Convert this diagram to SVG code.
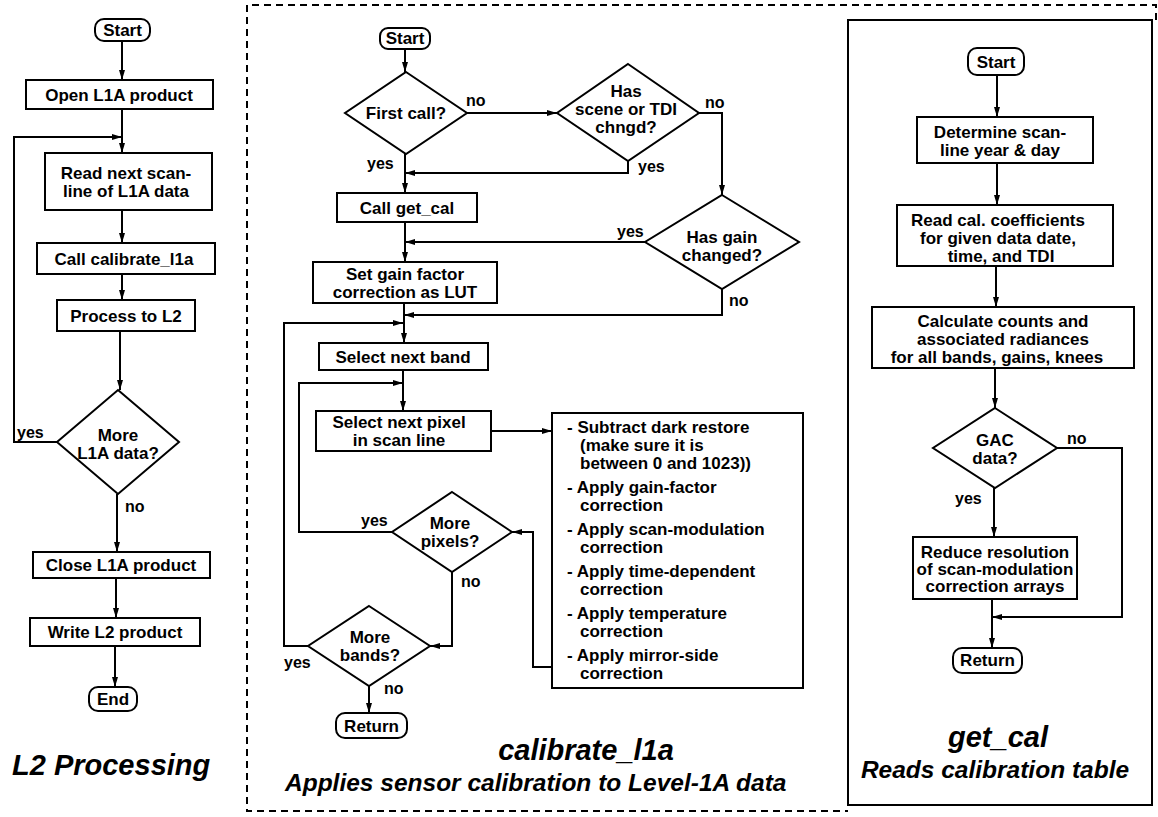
<svg xmlns="http://www.w3.org/2000/svg" width="1158" height="817" viewBox="0 0 1158 817">
<defs>
<style>
.b{fill:#fff;stroke:#000;stroke-width:2}
.c{fill:none;stroke:#000;stroke-width:2}
.a{marker-end:url(#ah)}
.t{font-family:"Liberation Sans",Arial,Helvetica,sans-serif;font-weight:bold;font-size:17px;text-anchor:middle;fill:#000}
.l{font-family:"Liberation Sans",Arial,Helvetica,sans-serif;font-weight:bold;font-size:16px;fill:#000}
.s{font-family:"Liberation Sans",Arial,Helvetica,sans-serif;font-weight:bold;font-size:17px;fill:#000}
.h{font-family:"Liberation Sans",Arial,Helvetica,sans-serif;font-weight:bold;font-style:italic;font-size:29px;fill:#000}
.u{font-family:"Liberation Sans",Arial,Helvetica,sans-serif;font-weight:bold;font-style:italic;font-size:24.5px;fill:#000}
</style>
<marker id="ah" viewBox="0 0 10 10" refX="10" refY="5" markerWidth="10" markerHeight="10" markerUnits="userSpaceOnUse" orient="auto"><path d="M0,2 L10,5 L0,8 z" fill="#000"/></marker>
</defs>
<rect width="1158" height="817" fill="#fff"/>

<!-- frames -->
<g id="frames">
<path d="M1156,20 V5 H247 V811 H848" fill="none" stroke="#000" stroke-width="2" stroke-dasharray="7,5"/>
<rect x="848" y="20" width="304" height="785" class="b" fill="none"/>
</g>

<!-- connectors -->
<g id="connectors">
<!-- left -->
<path class="c a" d="M122,41 V80"/>
<path class="c a" d="M122,109 V153"/>
<path class="c a" d="M57,442 H14 V137 H122"/>
<path class="c a" d="M122,210 V243"/>
<path class="c a" d="M122,274 V300"/>
<path class="c a" d="M120,331 V390"/>
<path class="c a" d="M117,494 V552"/>
<path class="c a" d="M116,578 V618"/>
<path class="c a" d="M115,646 V687"/>
<!-- middle -->
<path class="c a" d="M405,48 V72"/>
<path class="c a" d="M467,113 H557"/>
<path class="c a" d="M699,113 H722 V195"/>
<path class="c a" d="M628,161 V173 H405"/>
<path class="c a" d="M405,154 V193"/>
<path class="c a" d="M405,222 V262"/>
<path class="c a" d="M645,242 H405"/>
<path class="c a" d="M722,289 V315 H404"/>
<path class="c a" d="M404,303 V343"/>
<path class="c a" d="M308,646 H284 V323 H403"/>
<path class="c a" d="M403,370 V411"/>
<path class="c a" d="M392,532 H299 V383 H403"/>
<path class="c a" d="M491,431 H552"/>
<path class="c a" d="M552,667 H533 V532 H512"/>
<path class="c a" d="M452,572 V646 H430"/>
<path class="c a" d="M369,686 V713"/>
<!-- right -->
<path class="c a" d="M997,75 V117"/>
<path class="c a" d="M997,163 V205"/>
<path class="c a" d="M996,266 V307"/>
<path class="c a" d="M995,368 V408"/>
<path class="c a" d="M994,488 V537"/>
<path class="c a" d="M1057,448 H1122 V617 H992"/>
<path class="c a" d="M992,599 V648"/>
</g>

<!-- LEFT: L2 Processing -->
<g id="l-start"><rect class="b" x="95" y="19" width="55" height="22" rx="9"/><text class="t" x="122.5" y="36">Start</text></g>
<g id="l-open"><rect class="b" x="26" y="80" width="187" height="29"/><text class="t" x="119" y="101">Open L1A product</text></g>
<g id="l-read"><rect class="b" x="45" y="153" width="167" height="57"/><text class="t" x="126" y="179">Read next scan-</text><text class="t" x="126" y="197">line of L1A data</text></g>
<g id="l-call"><rect class="b" x="37" y="243" width="178" height="31"/><text class="t" x="124" y="265">Call calibrate_l1a</text></g>
<g id="l-proc"><rect class="b" x="57" y="300" width="138" height="31"/><text class="t" x="126" y="322">Process to L2</text></g>
<g id="l-more"><polygon class="b" points="118,390 179,442 118,494 57,442"/><text class="t" x="118" y="441">More</text><text class="t" x="118" y="459">L1A data?</text><text class="l" x="17" y="438">yes</text><text class="l" x="125" y="512">no</text></g>
<g id="l-close"><rect class="b" x="33" y="552" width="177" height="26"/><text class="t" x="121" y="571">Close L1A product</text></g>
<g id="l-write"><rect class="b" x="30" y="618" width="170" height="28"/><text class="t" x="115" y="638">Write L2 product</text></g>
<g id="l-end"><rect class="b" x="89" y="687" width="48" height="24" rx="9"/><text class="t" x="113" y="705">End</text></g>
<g id="l-title"><text class="h" x="12" y="775">L2 Processing</text></g>

<!-- MIDDLE: calibrate_l1a -->
<g id="m-start"><rect class="b" x="380" y="28" width="50" height="21" rx="8"/><text class="t" x="405" y="44">Start</text></g>
<g id="m-first"><polygon class="b" points="406,72 467,113 406,154 345,113"/><text class="t" x="406" y="119">First call?</text><text class="l" x="466" y="106">no</text><text class="l" x="367" y="169">yes</text></g>
<g id="m-scene"><polygon class="b" points="628,64 699,113 628,161 557,113"/><text class="t" x="626" y="97">Has</text><text class="t" x="626" y="115">scene or TDI</text><text class="t" x="626" y="133">chngd?</text><text class="l" x="705" y="108">no</text><text class="l" x="638" y="172">yes</text></g>
<g id="m-getcal"><rect class="b" x="337" y="193" width="140" height="29"/><text class="t" x="407" y="214">Call get_cal</text></g>
<g id="m-gain"><polygon class="b" points="722,195 799,242 722,289 645,242"/><text class="t" x="722" y="243">Has gain</text><text class="t" x="722" y="261">changed?</text><text class="l" x="617" y="237">yes</text><text class="l" x="729" y="306">no</text></g>
<g id="m-lut"><rect class="b" x="313" y="262" width="184" height="41"/><text class="t" x="405" y="280">Set gain factor</text><text class="t" x="405" y="298">correction as LUT</text></g>
<g id="m-band"><rect class="b" x="319" y="343" width="169" height="27"/><text class="t" x="403" y="363">Select next band</text></g>
<g id="m-pixel"><rect class="b" x="316" y="411" width="175" height="40"/><text class="t" x="399" y="428">Select next pixel</text><text class="t" x="399" y="446">in scan line</text></g>
<g id="m-ops"><rect class="b" x="552" y="413" width="251" height="275"/>
<text class="s" x="567" y="433">- Subtract dark restore</text>
<text class="s" x="580" y="451">(make sure it is</text>
<text class="s" x="580" y="469">between 0 and 1023))</text>
<text class="s" x="567" y="493">- Apply gain-factor</text>
<text class="s" x="580" y="511">correction</text>
<text class="s" x="567" y="535">- Apply scan-modulation</text>
<text class="s" x="580" y="553">correction</text>
<text class="s" x="567" y="577">- Apply time-dependent</text>
<text class="s" x="580" y="595">correction</text>
<text class="s" x="567" y="619">- Apply temperature</text>
<text class="s" x="580" y="637">correction</text>
<text class="s" x="567" y="661">- Apply mirror-side</text>
<text class="s" x="580" y="679">correction</text>
</g>
<g id="m-pixels"><polygon class="b" points="452,492 512,532 452,572 392,532"/><text class="t" x="450" y="529">More</text><text class="t" x="450" y="547">pixels?</text><text class="l" x="361" y="526">yes</text><text class="l" x="461" y="587">no</text></g>
<g id="m-bands"><polygon class="b" points="369,606 430,646 369,686 308,646"/><text class="t" x="370" y="643">More</text><text class="t" x="370" y="661">bands?</text><text class="l" x="284" y="668">yes</text><text class="l" x="384" y="694">no</text></g>
<g id="m-return"><rect class="b" x="336" y="713" width="71" height="25" rx="9"/><text class="t" x="371.5" y="732">Return</text></g>
<g id="m-title"><text class="h" x="586" y="760" text-anchor="middle">calibrate_l1a</text><text class="u" x="285" y="791">Applies sensor calibration to Level-1A data</text></g>

<!-- RIGHT: get_cal -->
<g id="r-start"><rect class="b" x="968" y="48" width="56" height="27" rx="9"/><text class="t" x="996" y="68">Start</text></g>
<g id="r-date"><rect class="b" x="917" y="117" width="176" height="46"/><text class="t" x="1000" y="138">Determine scan-</text><text class="t" x="1000" y="156">line year &amp; day</text></g>
<g id="r-coef"><rect class="b" x="897" y="205" width="216" height="61"/><text class="t" x="998" y="226">Read cal. coefficients</text><text class="t" x="998" y="244">for given data date,</text><text class="t" x="1001" y="262">time, and TDI</text></g>
<g id="r-calc"><rect class="b" x="872" y="307" width="262" height="61"/><text class="t" x="1003" y="327">Calculate counts and</text><text class="t" x="1003" y="345">associated radiances</text><text class="t" x="997" y="363">for all bands, gains, knees</text></g>
<g id="r-gac"><polygon class="b" points="995,408 1057,448 995,488 933,448"/><text class="t" x="995" y="446">GAC</text><text class="t" x="995" y="464">data?</text><text class="l" x="1067" y="444">no</text><text class="l" x="955" y="504">yes</text></g>
<g id="r-reduce"><rect class="b" x="913" y="537" width="164" height="62"/><text class="t" x="995" y="558">Reduce resolution</text><text class="t" x="995" y="575">of scan-modulation</text><text class="t" x="995" y="592">correction arrays</text></g>
<g id="r-return"><rect class="b" x="953" y="648" width="69" height="25" rx="9"/><text class="t" x="987.5" y="666">Return</text></g>
<g id="r-title"><text class="h" x="998" y="747" text-anchor="middle">get_cal</text><text class="u" x="995" y="778" text-anchor="middle">Reads calibration table</text></g>
</svg>
